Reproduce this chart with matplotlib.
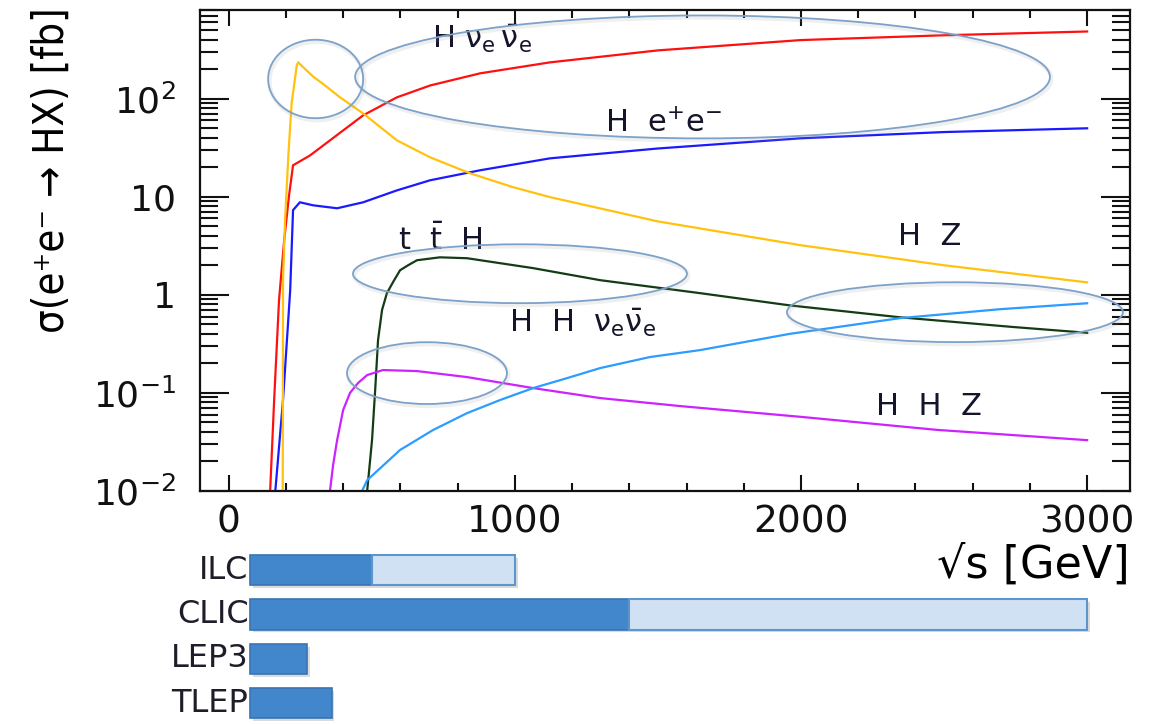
import numpy as np
import matplotlib.pyplot as plt
import matplotlib.patheffects as pe
from matplotlib.patches import Ellipse
from matplotlib.ticker import MultipleLocator, LogLocator, NullFormatter

plt.rcParams['font.family'] = ['DejaVu Sans']
plt.rcParams['mathtext.fontset'] = 'dejavusans'

# Higgs production cross sections, sqrt(s) in GeV, sigma in fb
hnn_E = [145, 159, 176, 194, 211, 225, 284, 354, 470, 588, 704, 879, 1123, 1500, 2000, 2500, 3000]
hnn_xs = [0.01, 0.085, 0.88, 3.6, 10.3, 20.9, 26.3, 37.5, 67.5, 103, 136, 181, 234, 310, 395, 442, 483]

hee_E = [163, 190, 215, 225, 249, 295, 379, 470, 588, 704, 879, 1123, 1500, 2000, 2500, 3000]
hee_xs = [0.01, 0.085, 1.11, 7.3, 8.77, 8.17, 7.62, 8.77, 11.6, 14.7, 18.6, 24.6, 31, 39.4, 45.6, 49.8]

hz_E = [189, 190, 197, 209, 220, 238, 243, 261, 295, 337, 389, 470, 588, 704, 844, 994, 1123, 1500, 2000, 2500, 3000]
hz_xs = [0.01, 1.4, 5.8, 27.6, 89, 218, 234, 208, 168, 136, 103, 70.6, 37.5, 25.2, 17.3, 12.5, 9.9, 5.6, 3.2, 2.0, 1.34]

tth_E = [484, 501, 512, 522, 536, 553, 574, 599, 627, 658, 738, 833, 1064, 1298, 1647, 1961, 2346, 2740, 3000]
tth_xs = [0.01, 0.033, 0.107, 0.345, 0.70, 1.04, 1.34, 1.78, 2.0, 2.25, 2.41, 2.36, 1.87, 1.41, 1.04, 0.78, 0.59, 0.47, 0.41]

hhz_E = [354, 365, 379, 400, 424, 452, 484, 539, 658, 833, 1064, 1298, 1578, 2000, 2475, 3000]
hhz_xs = [0.01, 0.0184, 0.033, 0.0668, 0.1, 0.126, 0.152, 0.171, 0.167, 0.145, 0.112, 0.0886, 0.0734, 0.057, 0.042, 0.033]

hhnn_E = [466, 484, 599, 714, 833, 948, 1064, 1183, 1298, 1472, 1647, 1961, 2346, 2695, 3000]
hhnn_xs = [0.01, 0.0129, 0.0262, 0.0418, 0.0622, 0.0845, 0.112, 0.1416, 0.179, 0.232, 0.273, 0.40, 0.578, 0.713, 0.82]

ytick_vals = [0.01, 0.1, 1, 10, 100]
ytick_labels = [r'$10^{-2}$', r'$10^{-1}$', '1', '10', r'$10^{2}$']

# highlighted regions: centre (GeV, log10 fb), width (GeV), height (decades)
ell_E = [304, 1656, 1018, 693, 2538]
ell_logxs = [2.20, 2.221, 0.215, -0.798, -0.177]
ell_w = [332, 2428, 1167, 559, 1174]
ell_h = [0.80, 1.253, 0.60, 0.63, 0.61]

# collider energy reach
colliders = ['ILC', 'CLIC', 'LEP3', 'TLEP']
stage1_start = [75, 75, 75, 75]
stage1_end = [500, 1400, 275, 360]
upgrade_end = [1000, 3000, 275, 360]

fig = plt.figure(figsize=(11.53, 7.24), dpi=100)
rect = [0.1735, 0.3218, 0.8066, 0.6644]
ax = fig.add_axes(rect)
ax.set_yscale('log')
ax.set_xlim(-100, 3150)
ax.set_ylim(0.01, 800)

ax.plot(hnn_E, hnn_xs, color='#ff1010', lw=1.6)
ax.plot(hee_E, hee_xs, color='#1a1aff', lw=1.6)
ax.plot(hz_E, hz_xs, color='#ffc20e', lw=1.6)
ax.plot(tth_E, tth_xs, color='#143c14', lw=1.6)
ax.plot(hhz_E, hhz_xs, color='#cc22ff', lw=1.6)
ax.plot(hhnn_E, hhnn_xs, color='#2d9cff', lw=1.6)

ax.xaxis.set_major_locator(MultipleLocator(1000))
ax.xaxis.set_minor_locator(MultipleLocator(200))
ax.set_yticks(ytick_vals, ytick_labels)
ax.yaxis.set_minor_locator(LogLocator(base=10, subs=np.arange(2, 10), numticks=50))
ax.yaxis.set_minor_formatter(NullFormatter())
ax.tick_params(which='both', direction='in', top=True, right=True, width=1.5, colors='#111111')
ax.tick_params(axis='x', which='major', length=11.5, labelsize=27, pad=10)
ax.tick_params(axis='x', which='minor', length=6)
ax.tick_params(axis='y', which='major', length=21, labelsize=26, pad=17)
ax.tick_params(axis='y', which='minor', length=13)
for sp in ax.spines.values():
    sp.set_linewidth(1.6)
    sp.set_color('#111111')

ax.set_xlabel('√s [GeV]', fontsize=32, loc='right')
ax.xaxis.set_label_coords(1.0, -0.154)
ax.xaxis.label.set_va('center')
ax.set_ylabel('σ(e⁺e⁻ → HX) [fb]', fontsize=30, fontstretch='condensed')
ax.yaxis.set_label_coords(-0.159, 0.667)
ax.yaxis.label.set_va('center')

# process labels
txt = dict(fontsize=22, color='#14142a', ha='center', va='baseline')
ax.text(885, 331, r'H $\mathrm{\nu_e\,\bar{\nu}_e}$', **txt)
ax.text(1518, 45.3, r'H  e$^{+}$e$^{-}$', **txt)
ax.text(739, 2.85, r't  $\mathrm{\bar{t}}$  H', **txt)
ax.text(1238, 0.416, r'H  H  $\mathrm{\nu_e\bar{\nu}_e}$', **txt)
ax.text(2451, 3.2, 'H  Z', **txt)
ax.text(2447, 0.0594, 'H  H  Z', **txt)

# ellipses drawn on a linear log10 overlay so they keep their shape
ov = fig.add_axes(rect)
ov.set_xlim(-100, 3150)
ov.set_ylim(-2, np.log10(800))
ov.axis('off')
ov.patch.set_alpha(0)
shadow = [pe.SimpleLineShadow(offset=(1, -1.5), shadow_color='#999999', alpha=0.15, linewidth=3), pe.Normal()]
for e, l, w, h in zip(ell_E, ell_logxs, ell_w, ell_h):
    el = Ellipse((e, l), w, h, fill=False, edgecolor='#7ca2c9', lw=1.3, clip_on=False)
    el.set_path_effects(shadow)
    ov.add_patch(el)

# collider bars on the same energy scale
bx = fig.add_axes([0.1735, 0.0, 0.8066, 0.2431])
bx.set_xlim(-100, 3150)
bx.set_ylim(3.47, -0.5)
bx.axis('off')
bar_shadow = [pe.SimplePatchShadow(offset=(2, -2), shadow_rgbFace='#999999', alpha=0.35), pe.Normal()]
for i, name in enumerate(colliders):
    b = bx.barh(i, stage1_end[i] - stage1_start[i], left=stage1_start[i], height=0.68,
                color='#4286cb', edgecolor='#3a74b2', lw=1.2)
    b[0].set_path_effects(bar_shadow)
    if upgrade_end[i] > stage1_end[i]:
        u = bx.barh(i, upgrade_end[i] - stage1_end[i], left=stage1_end[i], height=0.68,
                    color='#d0e1f3', edgecolor='#5f95cd', lw=1.5)
        u[0].set_path_effects(bar_shadow)
    bx.text(stage1_start[i] - 6, i, name, ha='right', va='center', fontsize=23, color='#1e1e2a')

fig.savefig('out.png', dpi=100)
